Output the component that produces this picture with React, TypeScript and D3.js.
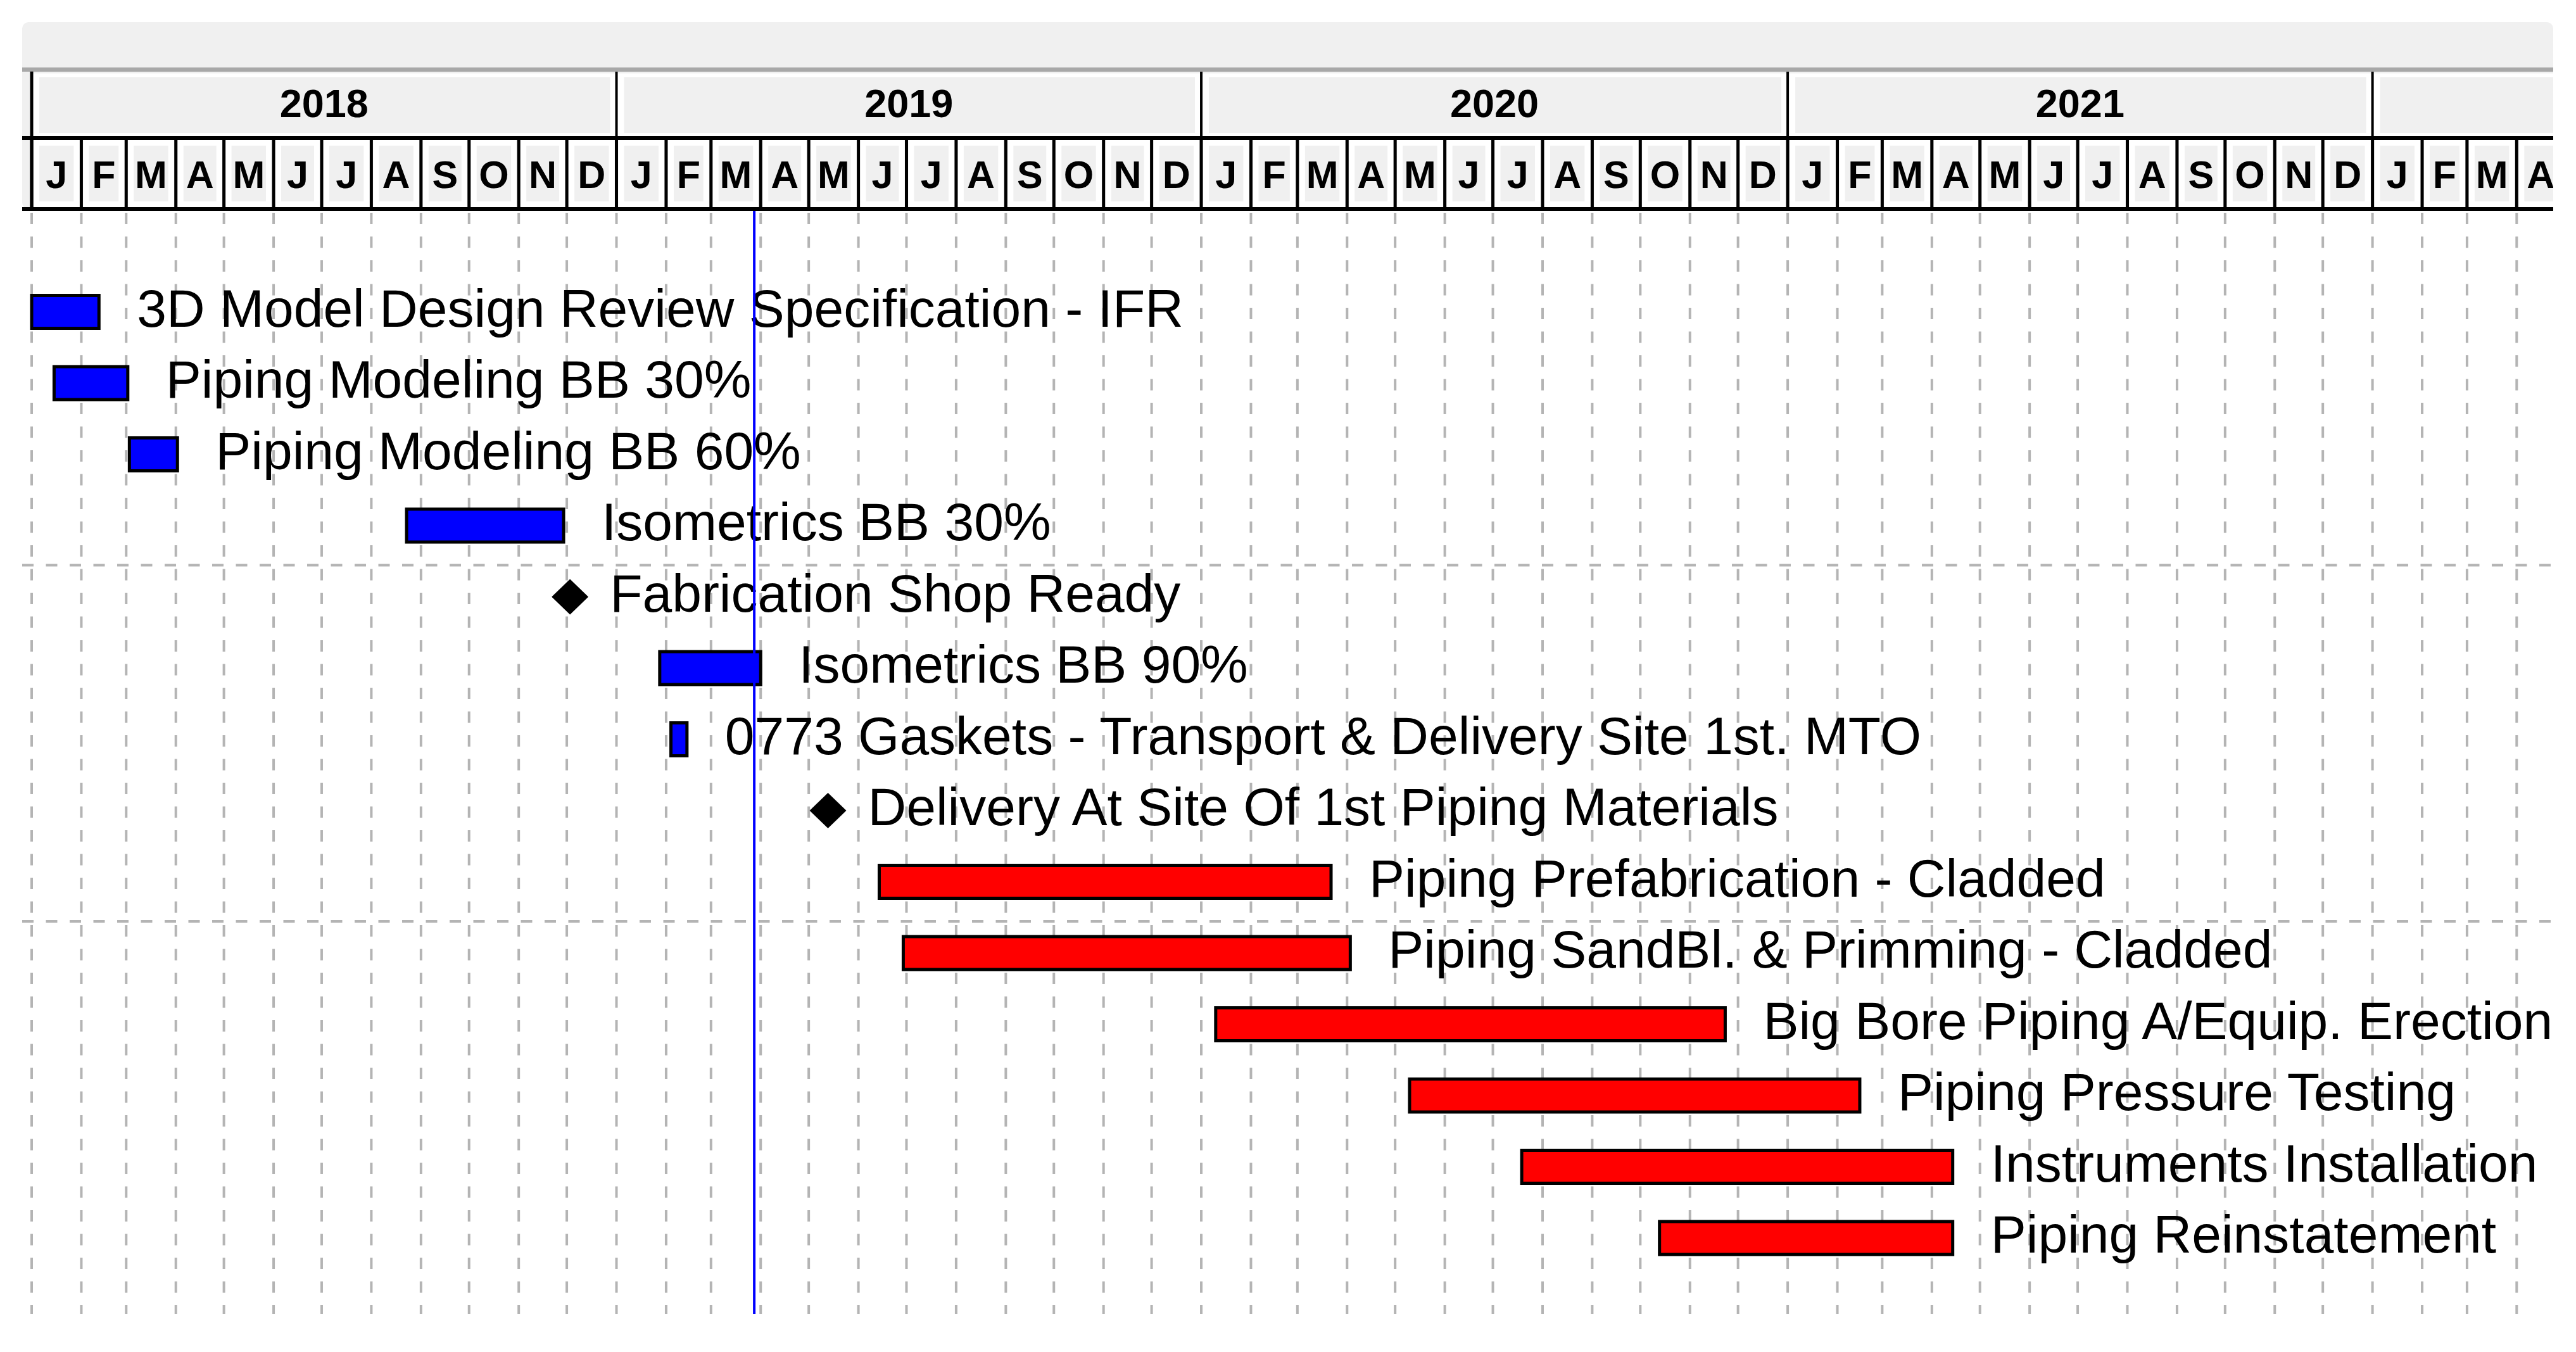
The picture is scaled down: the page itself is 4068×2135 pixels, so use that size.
import React from 'react';
import * as d3 from 'd3';

// task list, top to bottom
const taskNames = [
  '3D Model Design Review Specification - IFR',
  'Piping Modeling BB 30%',
  'Piping Modeling BB 60%',
  'Isometrics BB 30%',
  'Fabrication Shop Ready',
  'Isometrics BB 90%',
  '0773 Gaskets - Transport & Delivery Site 1st. MTO',
  'Delivery At Site Of 1st Piping Materials',
  'Piping Prefabrication - Cladded',
  'Piping SandBl. & Primming - Cladded',
  'Big Bore Piping A/Equip. Erection',
  'Piping Pressure Testing',
  'Instruments Installation',
  'Piping Reinstatement',
];
const taskStarts = [
  '2018-01-01', '2018-01-15', '2018-03-03', '2018-08-23', '2018-12-03',
  '2019-01-28', '2019-02-04', '2019-05-13', '2019-06-14', '2019-06-29',
  '2020-01-10', '2020-05-10', '2020-07-19', '2020-10-13',
];
// empty string = milestone
const taskEnds = [
  '2018-02-12', '2018-03-02', '2018-04-02', '2018-11-29', '',
  '2019-04-01', '2019-02-14', '', '2020-03-22', '2020-04-03',
  '2020-11-23', '2021-02-15', '2021-04-14', '2021-04-14',
];
const taskGroups = [
  'design', 'design', 'design', 'design', 'design',
  'design', 'design', 'design', 'construction', 'construction',
  'construction', 'construction', 'construction', 'construction',
];
const monthLetters = ['J', 'F', 'M', 'A', 'M', 'J', 'J', 'A', 'S', 'O', 'N', 'D'];
const yearLabels = ['2018', '2019', '2020', '2021', '2022'];
const todayDate = '2019-03-28';
const viewStart = '2018-01-01';
const viewEnd = '2022-04-23';

const parse = d3.utcParse('%Y-%m-%d');
const groupColor: Record<string, string> = { design: '#0000ff', construction: '#ff0000' };

const W = 4068;
const H = 2135;
const left = 35;
const right = 4032;
const headTop = 35;
const yearTop = 113;
const monthTop = 218;
const headBottom = 330;
const rowH = 112.5;
const bodyBottom = 2075;
const font = 'Liberation Sans, Arial, sans-serif';

export default function App() {
  const x = d3.scaleUtc()
    .domain([parse(viewStart)!, parse(viewEnd)!])
    .range([50, 4030]);

  const y = d3.scaleBand<number>()
    .domain(d3.range(taskNames.length + 1))
    .range([headBottom, headBottom + rowH * (taskNames.length + 1)])
    .padding(0);

  const months = d3.utcMonth.range(parse(viewStart)!, parse(viewEnd)!);
  const years = yearLabels.map(s => parse(s + '-01-01')!);

  const tasks = taskNames.map((name, i) => ({
    name,
    start: parse(taskStarts[i])!,
    end: taskEnds[i] ? parse(taskEnds[i])! : null,
    color: groupColor[taskGroups[i]],
    row: i + 1,
  }));

  const today = parse(todayDate)!;

  return (
    <svg width={W} height={H} style={{ position: 'absolute', left: 0, top: 0, background: '#fff' }}>
      <defs>
        <clipPath id="headClip">
          <rect x={left} y={headTop} width={right - left} height={headBottom - headTop} />
        </clipPath>
        <clipPath id="bodyClip">
          <rect x={left} y={headBottom} width={right - left} height={bodyBottom - headBottom} />
        </clipPath>
      </defs>

      {/* header */}
      <rect x={left} y={headTop} width={right - left} height={headBottom - headTop} rx={10} fill="#f0f0f0" />
      <g clipPath="url(#headClip)">
        {years.map((d, i) => {
          const x0 = x(d);
          const x1 = x(d3.utcYear.offset(d, 1));
          const mid = (x0 + x1) / 2;
          return (
            <g key={'y' + i}>
              <rect x={x0 + 2} y={yearTop + 3} width={x1 - x0 - 4} height={monthTop - yearTop - 5} fill="#fff" />
              <rect x={x0 + 12} y={yearTop + 9} width={x1 - x0 - 22} height={monthTop - yearTop - 17} fill="#f0f0f0" />
              {mid < right - 80 && (
                <text x={mid} y={185} textAnchor="middle" fontFamily={font}
                  fontWeight="bold" fontSize={63} fill="#000">{yearLabels[i]}</text>
              )}
              <line x1={x0} x2={x0} y1={yearTop} y2={monthTop} stroke="#000" strokeWidth={4} />
            </g>
          );
        })}
        {months.map((d, i) => {
          const x0 = x(d);
          const x1 = x(d3.utcMonth.offset(d, 1));
          return (
            <g key={'m' + i}>
              <rect x={x0 + 3} y={monthTop + 3} width={x1 - x0 - 6} height={headBottom - monthTop - 6} fill="#fff" />
              <rect x={x0 + 12} y={monthTop + 12} width={x1 - x0 - 24} height={headBottom - monthTop - 24} fill="#f0f0f0" />
              <text x={(x0 + x1) / 2} y={297} textAnchor="middle" fontFamily={font}
                fontWeight="bold" fontSize={61} fill="#000">{monthLetters[d.getUTCMonth()]}</text>
              <line x1={x0} x2={x0} y1={monthTop} y2={headBottom} stroke="#000" strokeWidth={5} />
            </g>
          );
        })}
      </g>
      <line x1={left} x2={right} y1={110} y2={110} stroke="#a8a8a8" strokeWidth={7} />
      <line x1={x.range()[0]} x2={x.range()[0]} y1={yearTop} y2={headBottom} stroke="#000" strokeWidth={5} />
      <line x1={left} x2={right} y1={monthTop} y2={monthTop} stroke="#000" strokeWidth={6} />
      <line x1={left} x2={right} y1={headBottom} y2={headBottom} stroke="#000" strokeWidth={6} />

      {/* body grid */}
      <g clipPath="url(#bodyClip)">
        {months.map((d, i) => (
          <line key={'g' + i} x1={x(d)} x2={x(d)} y1={headBottom + 6} y2={bodyBottom}
            stroke="#b4b4b4" strokeWidth={4} strokeDasharray="18 19.5" />
        ))}
        {[5, 10].map(r => (
          <line key={'h' + r} x1={left} x2={right} y1={y(r)!} y2={y(r)!}
            stroke="#b4b4b4" strokeWidth={4} strokeDasharray="18 19.5" />
        ))}
      </g>

      {/* tasks */}
      {tasks.map((t, i) => {
        const top = y(t.row)!;
        const cy = top + 50;
        if (t.end) {
          const x0 = x(t.start);
          const x1 = x(t.end);
          return (
            <g key={'t' + i}>
              <rect x={x0} y={cy - 26} width={x1 - x0} height={52} fill={t.color} stroke="#000" strokeWidth={5} />
              <text x={x1 + 60} y={cy + 23} fontFamily={font} fontSize={84} fill="#000">{t.name}</text>
            </g>
          );
        }
        const cx = x(t.start);
        const pts = [[cx - 29, cy], [cx, cy - 28], [cx + 29, cy], [cx, cy + 28]].map(p => p.join(',')).join(' ');
        return (
          <g key={'t' + i}>
            <polygon points={pts} fill="#000" />
            <text x={cx + 63} y={cy + 23} fontFamily={font} fontSize={84} fill="#000">{t.name}</text>
          </g>
        );
      })}

      {/* status date line */}
      <line x1={x(today)} x2={x(today)} y1={headBottom + 3} y2={bodyBottom} stroke="#0000ff" strokeWidth={4} />
    </svg>
  );
}
